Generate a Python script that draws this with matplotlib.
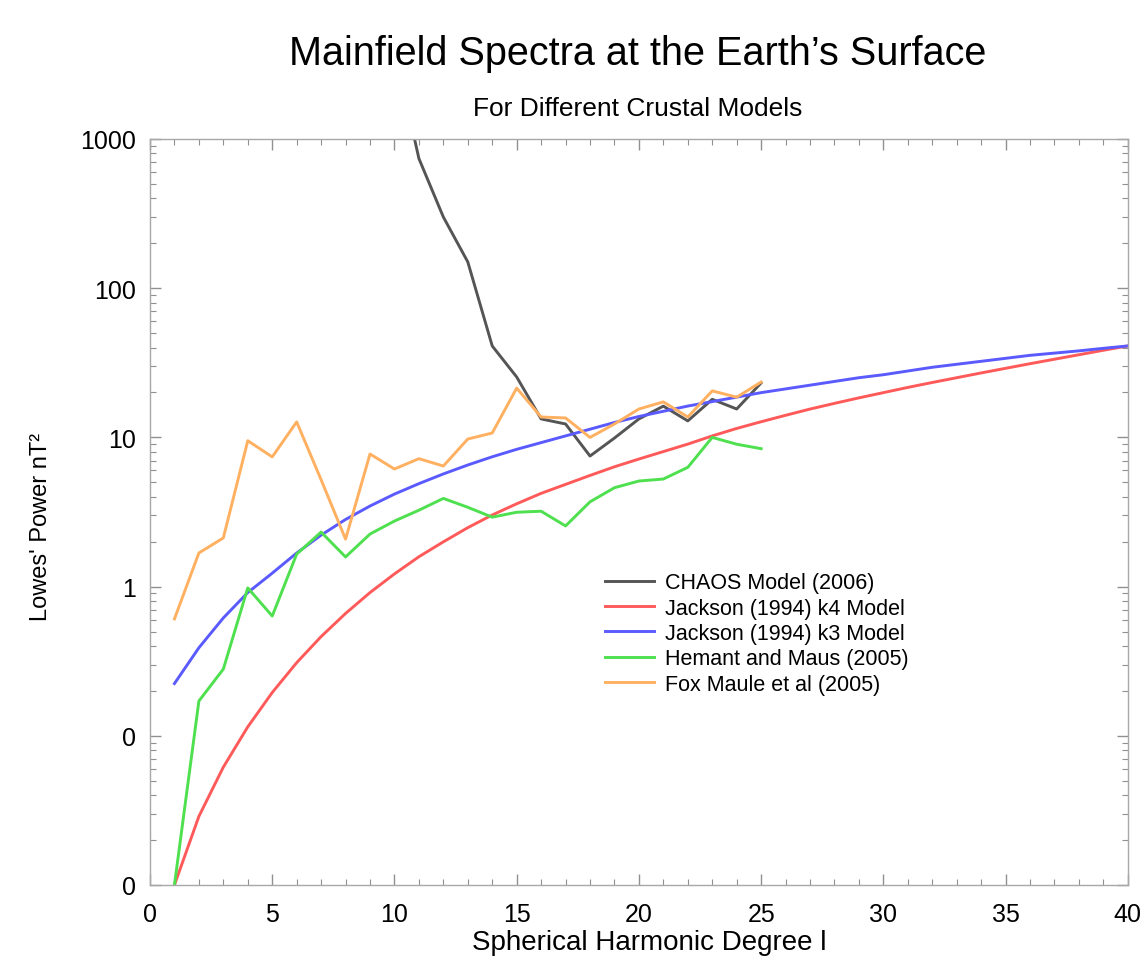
import matplotlib
matplotlib.use("Agg")
import matplotlib.pyplot as plt
import numpy as np
from matplotlib.ticker import FixedLocator, FixedFormatter, MultipleLocator

plt.rcParams['font.family'] = ['Liberation Sans', 'DejaVu Sans']

# ---------------- data ----------------
degrees_obs = list(range(1, 26))
chaos_degrees = list(range(10, 26))
chaos = [4000, 740, 300, 150, 41, 25.4, 13.3, 12.3, 7.5, 9.9, 13.3, 16.2, 12.9, 18.0, 15.5, 23.2]

hemant_maus = [0.01, 0.171, 0.28, 0.98, 0.635, 1.65, 2.32, 1.58, 2.25, 2.75, 3.25, 3.9,
               3.4, 2.92, 3.15, 3.2, 2.55, 3.7, 4.6, 5.1, 5.26, 6.3, 10.0, 9.0, 8.4]

fox_maule = [0.607, 1.68, 2.12, 9.5, 7.4, 12.7, 5.2, 2.08, 7.74, 6.14, 7.2, 6.43,
             9.75, 10.7, 21.4, 13.7, 13.5, 10.0, 12.3, 15.5, 17.3, 13.7, 20.5, 18.6, 23.5]

degrees_model = list(range(1, 41))
# log10 of power, read at each degree
jackson_k3_log = [-0.65, -0.41, -0.21, -0.04, 0.09, 0.225, 0.345, 0.45, 0.54, 0.62,
                  0.69, 0.755, 0.815, 0.87, 0.92, 0.965, 1.01, 1.055, 1.10, 1.14,
                  1.175, 1.21, 1.24, 1.27, 1.30, 1.325, 1.35, 1.375, 1.40, 1.42,
                  1.445, 1.47, 1.49, 1.51, 1.53, 1.55, 1.565, 1.58, 1.597, 1.613]
jackson_k4_log = [-2.0, -1.54, -1.21, -0.94, -0.71, -0.51, -0.335, -0.18, -0.04, 0.085,
                  0.20, 0.30, 0.395, 0.48, 0.555, 0.625, 0.685, 0.745, 0.803, 0.855,
                  0.905, 0.955, 1.01, 1.06, 1.105, 1.148, 1.19, 1.228, 1.265, 1.30,
                  1.335, 1.368, 1.40, 1.432, 1.463, 1.494, 1.524, 1.554, 1.584, 1.613]
jackson_k3 = [10 ** v for v in jackson_k3_log]
jackson_k4 = [10 ** v for v in jackson_k4_log]

ytick_values = [0.01, 0.1, 1, 10, 100, 1000]
ytick_labels = ["0", "0", "1", "10", "100", "1000"]
xtick_values = [0, 5, 10, 15, 20, 25, 30, 35, 40]

labels = ["CHAOS Model (2006)", "Jackson (1994) k4 Model", "Jackson (1994) k3 Model",
          "Hemant and Maus (2005)", "Fox Maule et al (2005)"]
colors = ["#555555", "#ff5a5a", "#5a5aff", "#4ee04e", "#ffb060"]

# ---------------- figure ----------------
fig = plt.figure(figsize=(11.45, 9.79), dpi=100)
ax = fig.add_axes([0.131, 0.095, 0.854, 0.762])

lw = 2.1
ax.plot(chaos_degrees, chaos, color=colors[0], lw=lw, label=labels[0])
ax.plot(degrees_model, jackson_k4, color=colors[1], lw=lw, label=labels[1])
ax.plot(degrees_model, jackson_k3, color=colors[2], lw=lw, label=labels[2])
ax.plot(degrees_obs, hemant_maus, color=colors[3], lw=lw, label=labels[3])
ax.plot(degrees_obs, fox_maule, color=colors[4], lw=lw, label=labels[4])

ax.set_yscale('log')
ax.set_xlim(0, 40)
ax.set_ylim(0.01, 1000)

ax.yaxis.set_major_locator(FixedLocator(ytick_values))
ax.yaxis.set_major_formatter(FixedFormatter(ytick_labels))
ax.xaxis.set_major_locator(FixedLocator(xtick_values))
ax.xaxis.set_minor_locator(MultipleLocator(1))

for s in ax.spines.values():
    s.set_color("#a8a8a8")
    s.set_linewidth(1.0)

ax.tick_params(which='both', direction='in', top=True, right=True, color="#909090")
ax.tick_params(which='major', length=8, width=1.0, labelsize=18, pad=10)
ax.tick_params(which='minor', length=4, width=0.8)
ax.tick_params(axis='x', which='major', pad=12)

fig.text(0.557, 0.945, "Mainfield Spectra at the Earth\u2019s Surface",
         ha='center', va='center', fontsize=28.5)
fig.text(0.557, 0.889, "For Different Crustal Models",
         ha='center', va='center', fontsize=19)
fig.text(0.567, 0.037, "Spherical Harmonic Degree l",
         ha='center', va='center', fontsize=20)
fig.text(0.036, 0.462, "Lowes' Power nT\u00b2", rotation=90,
         ha='center', va='center', fontsize=17)

leg = ax.legend(loc='upper left', bbox_to_anchor=(0.465, 0.419), frameon=False,
                fontsize=15.5, handlelength=2.3, handletextpad=0.5,
                labelspacing=0.2, borderpad=0, borderaxespad=0)

fig.savefig("out.png", dpi=100, facecolor="white")
